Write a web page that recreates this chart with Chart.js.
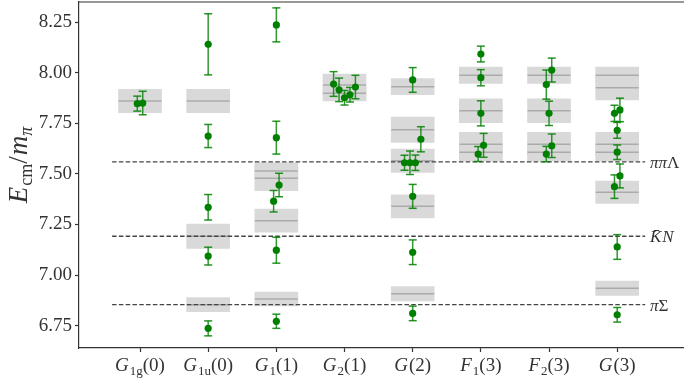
<!DOCTYPE html>
<html><head><meta charset="utf-8">
<script src="https://cdn.jsdelivr.net/npm/chart.js@4/dist/chart.umd.min.js"></script>
<style>html,body{margin:0;padding:0;background:#fff}</style>
</head><body>
<canvas id="c" width="684" height="380" style="display:block;width:684px;height:380px"></canvas>
<script>
// ---- data ----
const categories = ['G1g(0)','G1u(0)','G1(1)','G2(1)','G(2)','F1(3)','F2(3)','G(3)'];
const tickMain = ['G','G','G','G','G','F','F','G'];
const tickSub  = ['1g','1u','1','2','','1','2',''];
const tickArg  = ['(0)','(0)','(1)','(1)','(2)','(3)','(3)','(3)'];
const yTicks = [6.75, 7.00, 7.25, 7.50, 7.75, 8.00, 8.25];

// non-interacting levels (grey bands): category, centre, half-width
const levelCat  = [0, 1,1,1, 2,2,2,2, 3,3, 4,4,4,4,4, 5,5,5,5, 6,6,6,6, 7,7,7,7,7,7];
const levelVal  = [7.860, 7.860,7.192,6.854, 7.514,7.478,7.269,6.882, 7.939,7.898,
                   7.931,7.718,7.565,7.340,6.908, 7.987,7.812,7.646,7.607,
                   7.987,7.812,7.646,7.607, 7.987,7.926,7.646,7.607,7.409,6.935];
const levelErr  = [0.058, 0.058,0.060,0.035, 0.040,0.061,0.057,0.034, 0.054,0.037,
                   0.040,0.062,0.058,0.057,0.035, 0.040,0.059,0.059,0.043,
                   0.040,0.059,0.059,0.043, 0.040,0.061,0.059,0.043,0.055,0.035];

// lattice energies: category, jitter, value, error
const pointCat    = [0,0, 1,1,1,1,1, 2,2,2,2,2,2, 3,3,3,3,3, 4,4,4,4,4,4,4,4, 5,5,5,5,5, 6,6,6,6,6, 7,7,7,7,7,7,7,7];
const pointJitter = [-0.04,0.04, 0,0,0,0,0, 0,0,0.04,-0.04,0,0, -0.16,-0.08,0,0.08,0.16,
                     0,0.12,-0.12,-0.04,0.04,0,0,0, 0,0,0,0.04,-0.04, 0.04,-0.04,0,0.04,-0.04,
                     -0.04,0.04,0,0,0.04,-0.04,0,0];
const pointVal    = [7.847,7.850, 8.140,7.687,7.335,7.094,6.737, 8.236,7.679,7.445,7.365,7.123,6.772,
                     7.944,7.915,7.876,7.891,7.929,
                     7.964,7.671,7.555,7.555,7.555,7.389,7.113,6.811,
                     8.092,7.975,7.799,7.641,7.598, 8.013,7.941,7.799,7.639,7.598,
                     7.799,7.816,7.715,7.607,7.490,7.437,7.139,6.804];
const pointErr    = [0.037,0.058, 0.151,0.057,0.063,0.044,0.037, 0.084,0.081,0.058,0.053,0.064,0.035,
                     0.061,0.058,0.036,0.036,0.058,
                     0.061,0.062,0.037,0.058,0.038,0.059,0.061,0.036,
                     0.039,0.040,0.062,0.059,0.037, 0.059,0.072,0.060,0.058,0.038,
                     0.040,0.058,0.039,0.036,0.059,0.058,0.061,0.036];

// thresholds
const thresholdVal = [7.559, 7.192, 6.854];
const thresholdLabel = ['ππΛ', 'K̄N', 'πΣ'];
const thresholdSpan = [-0.41, 7.41];

// ---- build ----
const boxData = levelCat.map((c,i)=>({x:c, y:[levelVal[i]-levelErr[i], levelVal[i]+levelErr[i]]}));
const midData = levelCat.map((c,i)=>({x:c, y:levelVal[i]}));
const thrData = [];
thresholdVal.forEach(t=>{ thrData.push({x:thresholdSpan[0],y:t},{x:thresholdSpan[1],y:t},{x:thresholdSpan[1],y:null}); });
const stemData = [], capData = [], ptData = [];
pointCat.forEach((c,i)=>{
  const x = c + pointJitter[i], v = pointVal[i], e = pointErr[i];
  stemData.push({x, y:v-e},{x, y:v+e},{x, y:null});
  capData.push({x, y:v-e},{x, y:v+e});
  ptData.push({x, y:v});
});

const SERIF = '"Liberation Serif", "DejaVu Serif", serif';
const TXT = '#333333';

function drawRuns(ctx, runs, x, y, align){
  let total = 0;
  runs.forEach(r=>{ ctx.font = (r.it?'italic ':'') + r.size + 'px ' + SERIF; r.w = ctx.measureText(r.t).width + (r.pad||0); total += r.w; });
  let cx = align==='center' ? x - total/2 : x;
  runs.forEach(r=>{
    ctx.font = (r.it?'italic ':'') + r.size + 'px ' + SERIF;
    ctx.fillText(r.t, cx, y + (r.dy||0));
    cx += r.w;
  });
}

const textPlugin = {
  id:'texts',
  afterDraw(chart){
    const {ctx, chartArea, scales} = chart;
    ctx.save();
    // top spine
    ctx.strokeStyle = '#333'; ctx.lineWidth = 1.2;
    ctx.beginPath(); ctx.moveTo(chartArea.left, chartArea.top); ctx.lineTo(chartArea.right, chartArea.top); ctx.stroke();
    ctx.fillStyle = TXT; ctx.textBaseline = 'alphabetic'; ctx.textAlign = 'left';
    // x tick labels
    categories.forEach((c,i)=>{
      const px = scales.x.getPixelForValue(i);
      const runs = [{t:tickMain[i], it:true, size:19, pad:1}];
      if (tickSub[i]) runs.push({t:tickSub[i], size:13, dy:4});
      runs.push({t:tickArg[i], size:19});
      drawRuns(ctx, runs, px, 371, 'center');
    });
    // threshold labels
    thresholdVal.forEach((t,i)=>{
      const py = scales.y.getPixelForValue(t) + 6;
      const px = scales.x.getPixelForValue(7.48);
      let runs;
      if (i===0) runs = [{t:'ππ', it:true, size:17},{t:'Λ', size:17}];
      else if (i===1) runs = [{t:'K̄', it:true, size:17, pad:1},{t:'N', it:true, size:17}];
      else runs = [{t:'π', it:true, size:17},{t:'Σ', size:17}];
      drawRuns(ctx, runs, px, py, 'left');
    });
    // y title
    ctx.translate(27, 165);
    ctx.rotate(-Math.PI/2);
    drawRuns(ctx, [{t:'E', it:true, size:27, pad:1},{t:'cm', size:18, dy:5},{t:'/', size:27, pad:1},{t:'m', it:true, size:27},{t:'π', it:true, size:18, dy:5}], 0, 0, 'center');
    ctx.restore();
  }
};

new Chart(document.getElementById('c'), {
  type:'scatter',
  data:{datasets:[
    {type:'bar', data:boxData, backgroundColor:'#d9d9da', borderWidth:0, barThickness:43, order:10},
    {type:'scatter', data:midData, pointStyle:'line', pointRadius:21.5, pointHoverRadius:21.5, borderColor:'#ababab', borderWidth:1.5, order:9},
    {type:'scatter', data:thrData, showLine:true, spanGaps:false, borderColor:'#444', borderWidth:1.3, borderDash:[4.5,2.3], pointRadius:0, order:8},
    {type:'scatter', data:stemData, showLine:true, spanGaps:false, borderColor:'rgba(0,128,0,0.8)', borderWidth:1.5, pointRadius:0, order:3},
    {type:'scatter', data:capData, pointStyle:'line', pointRadius:4, pointHoverRadius:4, borderColor:'rgba(0,128,0,0.85)', borderWidth:1.5, order:2},
    {type:'scatter', data:ptData, pointRadius:3.6, pointHoverRadius:3.6, backgroundColor:'#008000', borderColor:'#008000', borderWidth:0, order:1}
  ]},
  options:{
    responsive:false, animation:false, devicePixelRatio:1,
    layout:{autoPadding:false, padding:{top:2, right:0, left:0, bottom:0}},
    plugins:{legend:{display:false}, tooltip:{enabled:false}},
    scales:{
      x:{type:'linear', min:-0.895, max:7.98, offset:false,
         afterBuildTicks:(s)=>{ s.ticks = categories.map((c,i)=>({value:i})); },
         afterFit:(s)=>{ s.height = 32; s.paddingLeft = 0; s.paddingRight = 0; s.paddingTop = 0; s.paddingBottom = 0; },
         ticks:{callback:()=> '', autoSkip:false, font:{size:1}},
         grid:{display:true, offset:false, drawOnChartArea:false, drawTicks:true, tickLength:4, color:'#333', tickWidth:1.2},
         border:{display:true, color:'#333', width:1.2}},
      y:{type:'linear', min:6.64, max:8.349, stacked:false,
         afterBuildTicks:(s)=>{ s.ticks = yTicks.map(v=>({value:v})); },
         afterFit:(s)=>{ s.width = 79; s.paddingTop = 0; s.paddingBottom = 0; s.paddingLeft = 0; s.paddingRight = 0; },
         ticks:{callback:(v)=>Number(v).toFixed(2), font:{family:SERIF, size:19}, color:TXT, padding:3},
         grid:{display:true, drawOnChartArea:false, drawTicks:true, tickLength:4, color:'#333', tickWidth:1.2},
         border:{display:true, color:'#333', width:1.2}}
    }
  },
  plugins:[textPlugin]
});
</script>
</body></html>
